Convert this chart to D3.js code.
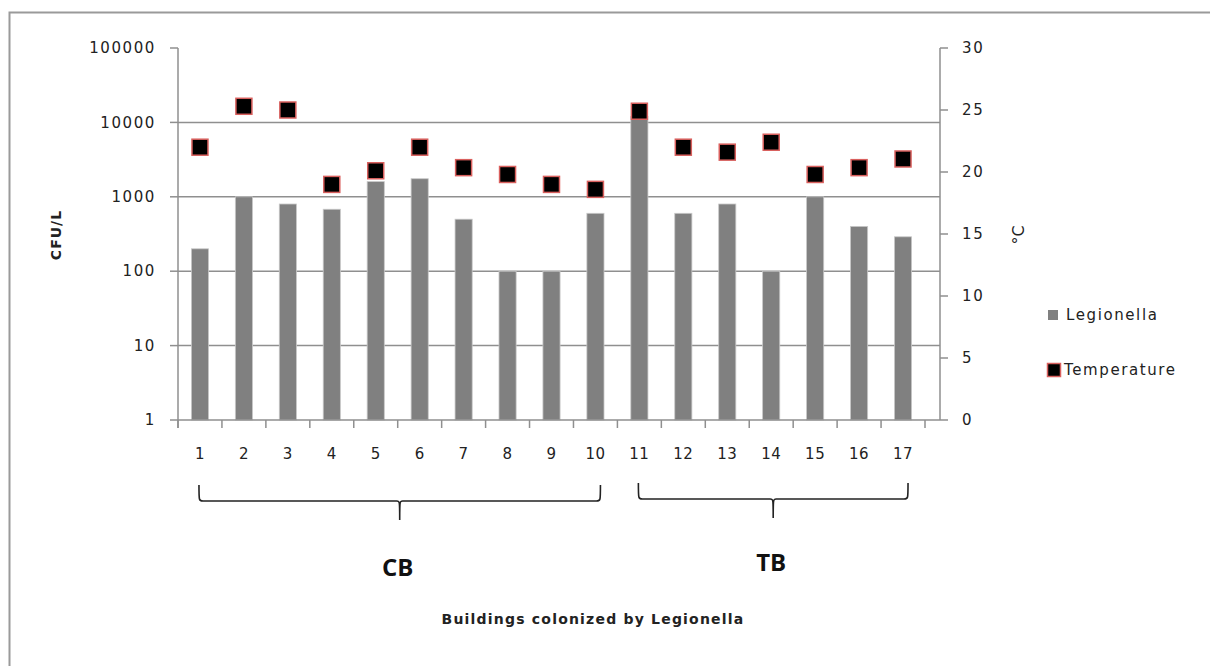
<!DOCTYPE html>
<html>
<head>
<meta charset="utf-8">
<script src="https://cdn.jsdelivr.net/npm/d3@7"></script>
<style>
  body { margin: 0; background: #fff; }
  svg { display: block; font-family: "DejaVu Sans", sans-serif; }
  .tick-label { font-size: 15px; fill: #222; letter-spacing: 1.6px; }
</style>
</head>
<body>
<svg id="chart" width="1210" height="666"></svg>
<script>
// building numbers, 1-10 are CB and 11-17 are TB
const buildings = ["1","2","3","4","5","6","7","8","9","10","11","12","13","14","15","16","17"];
const legionella = [200, 1000, 800, 680, 1600, 1750, 500, 100, 100, 600, 12000, 600, 800, 100, 1000, 400, 290];
const temperature = [22, 25.3, 25, 19, 20.1, 22, 20.35, 19.8, 19, 18.6, 24.9, 22, 21.6, 22.4, 19.8, 20.35, 21.05];
const groups = [
  {name: "CB", from: "1", to: "10"},
  {name: "TB", from: "11", to: "17"}
];
const leftTicks = [1, 10, 100, 1000, 10000, 100000];
const rightTicks = [0, 5, 10, 15, 20, 25, 30];

const svg = d3.select("#chart");
const gridColor = "#8f8f8f";

// outer frame (only left + top edges visible)
svg.append("path")
  .attr("d", "M9.5,666 V12.5 H1210")
  .attr("fill", "none").attr("stroke", "#9a9a9a").attr("stroke-width", 2);

const x = d3.scaleBand().domain(buildings).range([178, 925])
  .paddingInner(0.61).paddingOuter(0.305);
const yL = d3.scaleLog().domain([1, 100000]).range([420, 48]);
const yR = d3.scaleLinear().domain([0, 30]).range([420, 48]);
const step = x.step();

// gridlines
svg.append("g").selectAll("line")
  .data(leftTicks.filter(d => d > 1 && d < 100000))
  .join("line")
  .attr("x1", 178).attr("x2", 940)
  .attr("y1", d => yL(d)).attr("y2", d => yL(d))
  .attr("stroke", gridColor).attr("stroke-width", 1.5);

// bars
svg.append("g").selectAll("rect")
  .data(buildings)
  .join("rect")
  .attr("x", (d, i) => x(d))
  .attr("width", x.bandwidth())
  .attr("y", (d, i) => yL(legionella[i]))
  .attr("height", (d, i) => yL(1) - yL(legionella[i]))
  .attr("fill", "#808080")
  .attr("stroke", "#c8c8c8").attr("stroke-width", 0.8);

// left axis
const gl = svg.append("g");
gl.append("line").attr("x1", 178).attr("x2", 178).attr("y1", 48).attr("y2", 428)
  .attr("stroke", gridColor).attr("stroke-width", 1.5);
gl.selectAll(".t").data(leftTicks).join("line")
  .attr("x1", 170).attr("x2", 178)
  .attr("y1", d => yL(d)).attr("y2", d => yL(d))
  .attr("stroke", gridColor).attr("stroke-width", 1.5);
gl.selectAll("text").data(leftTicks).join("text")
  .attr("class", "tick-label")
  .attr("x", 156).attr("y", d => yL(d)).attr("dy", "0.35em")
  .attr("text-anchor", "end")
  .text(d => d3.format("d")(d));

// right axis
const gr = svg.append("g");
gr.append("line").attr("x1", 940).attr("x2", 940).attr("y1", 48).attr("y2", 420)
  .attr("stroke", gridColor).attr("stroke-width", 1.5);
gr.selectAll(".t").data(rightTicks).join("line")
  .attr("x1", 940).attr("x2", 948)
  .attr("y1", d => yR(d)).attr("y2", d => yR(d))
  .attr("stroke", gridColor).attr("stroke-width", 1.5);
gr.selectAll("text").data(rightTicks).join("text")
  .attr("class", "tick-label")
  .attr("x", 962).attr("y", d => yR(d)).attr("dy", "0.35em")
  .text(d => d);

// category axis
const gx = svg.append("g");
gx.append("line").attr("x1", 178).attr("x2", 940).attr("y1", 420).attr("y2", 420)
  .attr("stroke", gridColor).attr("stroke-width", 1.5);
const bounds = buildings.map(d => x(d) + x.bandwidth() / 2 - step / 2)
  .concat([x(buildings[buildings.length - 1]) + x.bandwidth() / 2 + step / 2]);
gx.selectAll(".t").data(bounds).join("line")
  .attr("x1", d => d).attr("x2", d => d).attr("y1", 420).attr("y2", 428)
  .attr("stroke", gridColor).attr("stroke-width", 1.5);
gx.selectAll("text").data(buildings).join("text")
  .attr("class", "tick-label")
  .style("letter-spacing", "0.5px")
  .attr("x", d => x(d) + x.bandwidth() / 2).attr("y", 459)
  .attr("text-anchor", "middle")
  .text(d => d);

// temperature markers
svg.append("g").selectAll("rect")
  .data(buildings)
  .join("rect")
  .attr("x", d => x(d) + x.bandwidth() / 2 - 8)
  .attr("y", (d, i) => yR(temperature[i]) - 8)
  .attr("width", 16).attr("height", 16)
  .attr("fill", "#000")
  .attr("stroke", "#d9605e").attr("stroke-width", 1.5);

// braces under the groups
function brace(x0, x1, top) {
  const mid = (x0 + x1) / 2, h = top + 16;
  return `M${x0},${top} C${x0},${h} ${x0},${h} ${x0 + 4},${h} H${mid - 3}` +
    ` C${mid},${h} ${mid},${h} ${mid},${h + 19} C${mid},${h} ${mid},${h} ${mid + 3},${h}` +
    ` H${x1 - 4} C${x1},${h} ${x1},${h} ${x1},${top}`;
}
const gb = svg.append("g");
groups.forEach((g, k) => {
  const x0 = x(g.from) + x.bandwidth() / 2 - 1;
  const x1 = x(g.to) + x.bandwidth() / 2 + 5;
  const top = k === 0 ? 485 : 483;
  gb.append("path").attr("d", brace(x0, x1, top))
    .attr("fill", "none").attr("stroke", "#222").attr("stroke-width", 1.6);
  gb.append("text")
    .attr("x", (x0 + x1) / 2 - 2).attr("y", k === 0 ? 576 : 571)
    .attr("text-anchor", "middle")
    .style("font-family", "'Open Sans', sans-serif")
    .style("font-weight", "bold").style("font-size", "24px")
    .attr("fill", "#111")
    .text(g.name);
});

// axis titles
svg.append("text")
  .attr("transform", "translate(61,235) rotate(-90)")
  .attr("text-anchor", "middle")
  .style("font-size", "14px").style("font-weight", "bold").style("letter-spacing", "1px")
  .attr("fill", "#222")
  .text("CFU/L");
svg.append("text")
  .attr("transform", "translate(1024,235) rotate(-90)")
  .attr("text-anchor", "middle")
  .style("font-size", "16px")
  .attr("fill", "#222")
  .text("°C");
svg.append("text")
  .attr("x", 593).attr("y", 624)
  .attr("text-anchor", "middle")
  .style("font-size", "14px").style("font-weight", "bold").style("letter-spacing", "1.2px")
  .attr("fill", "#222")
  .text("Buildings colonized by Legionella");

// legend
const lg = svg.append("g");
lg.append("rect").attr("x", 1048).attr("y", 310).attr("width", 10).attr("height", 10)
  .attr("fill", "#808080");
lg.append("text").attr("class", "tick-label").style("font-size", "15px")
  .attr("x", 1066).attr("y", 315).attr("dy", "0.35em").text("Legionella");
lg.append("rect").attr("x", 1047.5).attr("y", 363.5).attr("width", 13).attr("height", 13)
  .attr("fill", "#000").attr("stroke", "#d9605e").attr("stroke-width", 1.5);
lg.append("text").attr("class", "tick-label").style("font-size", "15px")
  .attr("x", 1064).attr("y", 370).attr("dy", "0.35em").text("Temperature");
</script>
</body>
</html>
